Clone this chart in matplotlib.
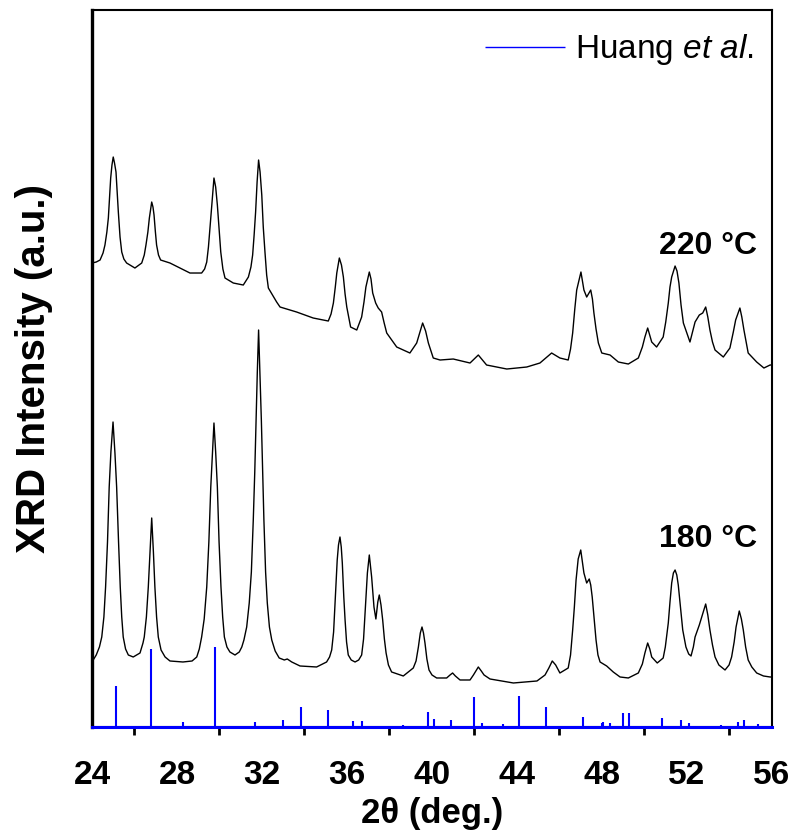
import numpy as np
import matplotlib
matplotlib.use("Agg")
import matplotlib.pyplot as plt

plt.rcParams['font.family'] = ['Liberation Sans', 'DejaVu Sans']
plt.rcParams['mathtext.fontset'] = 'custom'
plt.rcParams['mathtext.rm'] = 'Liberation Sans'
plt.rcParams['mathtext.it'] = 'Liberation Sans:italic'

# 180 C pattern (2theta in deg, intensity a.u.)
tt_180 = [24.00, 24.20, 24.35, 24.46, 24.56, 24.64, 24.73, 24.81, 24.89, 24.99,
          25.08, 25.16, 25.25, 25.33, 25.40, 25.47, 25.58, 25.71, 25.94,
          26.26, 26.40, 26.46, 26.56, 26.65, 26.73, 26.81, 26.89, 26.96, 27.04,
          27.12, 27.25, 27.44, 27.67, 28.28, 28.71,
          28.93, 29.05, 29.16, 29.28, 29.40, 29.50, 29.59, 29.67, 29.74, 29.82,
          29.90, 29.98, 30.07, 30.15, 30.23, 30.35, 30.49, 30.73,
          30.93, 31.05, 31.15, 31.28, 31.40, 31.50, 31.59, 31.66, 31.72, 31.78,
          31.84, 31.90, 31.97, 32.03, 32.09, 32.17, 32.25, 32.35, 32.46, 32.62,
          32.81, 33.05, 33.19, 33.40, 33.79, 34.57,
          35.04, 35.18, 35.28, 35.37, 35.44, 35.54, 35.60, 35.67, 35.73, 35.78,
          35.85, 35.91, 35.98, 36.06, 36.20, 36.38,
          36.55, 36.69, 36.78, 36.85, 36.96, 37.05, 37.16, 37.27, 37.36, 37.45,
          37.52, 37.60, 37.68, 37.76, 37.84, 37.95, 38.10, 38.65,
          39.12, 39.25, 39.36, 39.45, 39.53, 39.60, 39.67, 39.76, 39.86, 40.00,
          40.22, 40.69, 40.85, 40.97, 41.10, 41.32, 41.79, 41.95, 42.18, 42.32,
          42.45, 42.73, 43.83, 44.94, 45.32, 45.50, 45.66, 45.82, 46.02, 46.41,
          46.52, 46.62, 46.70, 46.78, 46.88, 47.00, 47.08, 47.15, 47.28, 47.40,
          47.47, 47.54, 47.63, 47.72, 47.81, 47.91, 48.22, 48.53, 48.85, 49.24,
          49.71, 49.90, 50.02, 50.15, 50.25, 50.34, 50.60, 50.88, 50.98, 51.12,
          51.20, 51.28, 51.36, 51.44, 51.52, 51.59, 51.70, 51.80, 51.95, 52.08,
          52.19, 52.30, 52.38, 52.58, 52.74, 52.88, 52.98, 53.08, 53.20, 53.32,
          53.50, 53.79, 53.98, 54.10, 54.22, 54.31, 54.46, 54.56, 54.65, 54.76,
          54.88, 55.05, 55.28, 55.60, 55.91, 56.00]
int_180 = [65, 72, 80, 90, 110, 140, 185, 240, 275, 305,
           274, 240, 185, 140, 110, 90, 78, 72, 70,
           74, 84, 90, 110, 140, 175, 209, 175, 140, 110,
           90, 77, 70, 66, 65, 66,
           70, 78, 90, 108, 140, 185, 240, 275, 304, 275,
           240, 185, 140, 110, 90, 80, 75, 72,
           75, 80, 87, 100, 124, 155, 207, 255, 307, 355,
           397, 355, 307, 255, 207, 155, 124, 100, 87, 76,
           69, 67, 68, 65, 61, 60,
           65, 70, 77, 95, 124, 167, 182, 190, 180, 164,
           130, 107, 85, 72, 67, 65,
           67, 72, 88, 114, 154, 172, 150, 120, 108, 125,
           132, 122, 107, 88, 74, 62, 55, 51,
           59, 66, 80, 94, 100, 94, 84, 68, 57, 52,
           49, 49, 52, 54, 51, 47, 47, 52, 60, 56,
           52, 48, 44, 46, 52, 59, 66, 62, 54, 59,
           72, 97, 120, 147, 168, 177, 165, 154, 144, 148,
           142, 130, 108, 87, 72, 65, 61, 55, 50, 49,
           54, 63, 74, 84, 78, 70, 64, 69, 80, 104,
           125, 144, 154, 157, 152, 142, 118, 97, 80, 73,
           71, 80, 90, 102, 113, 123, 112, 97, 82, 70,
           62, 57, 62, 70, 85, 100, 116, 108, 97, 80,
           67, 60, 54, 51, 50, 50]

# 220 C pattern
tt_220 = [24.00, 24.20, 24.38, 24.52, 24.61, 24.70, 24.77, 24.88, 24.94, 25.00,
          25.06, 25.13, 25.24, 25.32, 25.40, 25.50, 25.63, 26.02,
          26.34, 26.46, 26.54, 26.63, 26.70, 26.81, 26.87, 26.92, 26.98, 27.04,
          27.13, 27.23, 27.67, 28.14, 28.61, 29.16,
          29.30, 29.40, 29.48, 29.55, 29.65, 29.74, 29.82, 29.90, 29.98, 30.06,
          30.16, 30.26, 30.65, 31.12,
          31.36, 31.48, 31.56, 31.63, 31.70, 31.77, 31.84, 31.91, 31.99, 32.06,
          32.14, 32.22, 32.30, 32.69, 32.85, 33.63,
          34.41, 35.12, 35.25, 35.36, 35.45, 35.52, 35.64, 35.74, 35.83, 35.91,
          35.99, 36.17, 36.46, 36.69, 36.80, 36.89, 37.05, 37.13, 37.21, 37.35,
          37.47, 37.63, 37.75, 37.87, 38.34, 38.96, 39.28, 39.42, 39.56, 39.70,
          39.83, 40.06, 40.38, 41.00, 41.79, 42.18, 42.57, 43.52, 44.46, 45.08,
          45.63, 46.02, 46.41, 46.52, 46.62, 46.72, 46.81, 47.01, 47.15, 47.28,
          47.47, 47.55, 47.62, 47.72, 47.83, 47.99, 48.38, 48.77, 49.24, 49.71,
          49.90, 50.02, 50.15, 50.34, 50.57, 50.88, 51.00, 51.12, 51.20, 51.28,
          51.44, 51.53, 51.62, 51.72, 51.83, 52.14, 52.38, 52.58, 52.74, 52.88,
          52.98, 53.08, 53.20, 53.32, 53.71, 54.02, 54.18, 54.29, 54.49, 54.58,
          54.68, 54.88, 55.28, 55.62, 55.91, 56.00]
int_220 = [464, 465, 467, 474, 482, 495, 509, 549, 562, 570,
           564, 555, 515, 490, 475, 468, 464, 459,
           464, 472, 482, 495, 509, 525, 520, 512, 496, 482,
           472, 467, 464, 459, 454, 454,
           458, 465, 480, 499, 525, 549, 540, 522, 498, 475,
           458, 449, 444, 442,
           450, 460, 472, 492, 515, 545, 567, 555, 532, 500,
           475, 452, 439, 425, 420, 415,
           409, 406, 413, 424, 440, 454, 469, 462, 450, 433,
           420, 400, 397, 410, 425, 440, 455, 448, 434, 424,
           419, 415, 404, 394, 380, 374, 384, 394, 404, 396,
           384, 369, 367, 368, 364, 372, 362, 358, 360, 364,
           374, 369, 367, 378, 394, 418, 437, 455, 437, 430,
           437, 428, 414, 398, 384, 374, 372, 365, 363, 369,
           380, 390, 399, 385, 380, 390, 405, 424, 440, 450,
           461, 456, 444, 422, 404, 385, 405, 412, 414, 420,
           410, 397, 385, 377, 370, 379, 395, 407, 419, 410,
           397, 374, 365, 359, 362, 362]

# reference pattern (Huang et al.) stick positions / heights
ref_tt = [24.00, 25.13, 26.76, 28.30, 29.79, 31.67, 33.00, 33.82, 35.09, 36.30,
          36.69, 38.65, 39.80, 40.10, 40.90, 42.00, 42.35, 43.35, 44.09, 45.38,
          46.45, 47.09, 47.98, 48.06, 48.38, 48.97, 49.28, 50.81, 51.70, 52.10,
          53.60, 54.38, 54.70, 55.36]
ref_int = [64, 41, 78, 5, 80, 5, 7, 20, 17, 6,
           6, 1.5, 15, 8, 7, 30, 4, 3, 31, 20,
           1, 10, 4, 5, 4, 14, 14, 9, 7, 4,
           2, 5, 7, 3]

fig = plt.figure(figsize=(7.93, 8.36), dpi=100)
ax = fig.add_axes([0.116, 0.1304, 0.8575, 0.8576])

ax.plot(tt_220, int_220, color='black', lw=1.0)
ax.plot(tt_180, int_180, color='black', lw=1.0)
ax.vlines(ref_tt, 0, ref_int, colors='#0000ff', lw=1.5, label='Huang $\\mathit{et\\ al.}$')
ax.axhline(0, color='#0000ff', lw=2.2, zorder=5, clip_on=False)

ax.text(55.3, 473, '220 \u00b0C', ha='right', va='baseline', fontsize=23, fontweight='bold')
ax.text(55.3, 180, '180 \u00b0C', ha='right', va='baseline', fontsize=23, fontweight='bold')

ax.set_xlim(24, 56)
ax.set_ylim(0, 717)
ax.set_xticks(np.arange(24, 57, 4))
ax.set_xticks(np.arange(26, 56, 4), minor=True)
ax.tick_params(axis='x', which='major', length=0, labelsize=24, pad=24)
ax.tick_params(axis='x', which='minor', direction='out', length=6, width=2)
for lab in ax.get_xticklabels():
    lab.set_fontweight('bold')
ax.set_yticks([])

ax.spines['left'].set_linewidth(2.4)
ax.spines['top'].set_linewidth(1.5)
ax.spines['right'].set_linewidth(1.5)
ax.spines['bottom'].set_linewidth(1.5)

ax.set_xlabel('2\u03b8 (deg.)', fontsize=25, fontweight='bold', labelpad=4)
ax.set_ylabel('XRD Intensity (a.u.)', fontsize=29, fontweight='bold', labelpad=28)

leg = ax.legend(loc='upper right', frameon=False, fontsize=24, handlelength=2.4,
                handletextpad=0.3, bbox_to_anchor=(1.012, 1.006), borderaxespad=0.4)
for h in leg.get_lines():
    h.set_linewidth(1.0)

fig.savefig('out.png', dpi=100)
